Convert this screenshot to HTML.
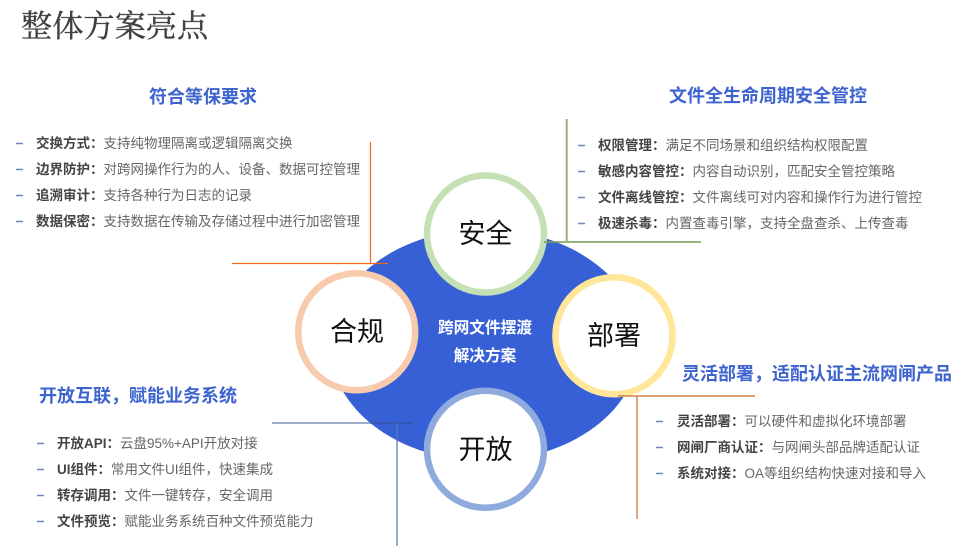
<!DOCTYPE html>
<html lang="zh"><head><meta charset="utf-8"><title>整体方案亮点</title>
<style>
html,body{margin:0;padding:0;background:#fff}
svg{display:block;filter:blur(.3px)}
text{font-family:"Liberation Sans","Noto Sans CJK SC",sans-serif}
.t{font-size:13.5px;fill:#666}
.t .b{font-weight:700;fill:#444}
.h{font-size:18px;font-weight:700;fill:#3d63cf}
.c{font-size:27px;fill:#111;text-anchor:middle}
.d{stroke:#6f86bd;stroke-width:1.5}
</style></head><body>
<svg width="959" height="554" viewBox="0 0 959 554" xmlns="http://www.w3.org/2000/svg">
<text x="21" y="37" style="font-family:'Liberation Serif','Noto Serif CJK SC',serif;font-size:31.2px;fill:#404040;stroke:#404040;stroke-width:.35">整体方案亮点</text>

<ellipse cx="485" cy="345" rx="155" ry="116" fill="#3760d6"/>

<g fill="#fff" stroke-width="6.5">
<circle cx="485.5" cy="234" r="58.5" stroke="#c5e0b4"/>
<circle cx="356.7" cy="331.7" r="58.5" stroke="#f8cbad"/>
<circle cx="614" cy="335.7" r="58.5" stroke="#ffe699"/>
<circle cx="485.5" cy="449.3" r="58.5" stroke="#8faadc"/>
</g>

<g fill="none">
<path d="M370.500 142V264M232 263.500H388" stroke="#f0681a" stroke-width="1.2"/>
<path d="M566.700 119V242M544 242H701" stroke="#7f9f5c" stroke-opacity=".8" stroke-width="2"/>
<path d="M272 423H412" stroke="#2f4f8f" stroke-opacity=".75" stroke-width="1.3"/>
<path d="M397 423V546" stroke="#5f78b4" stroke-opacity=".8" stroke-width="1.6"/>
<path d="M618 396H755M637 396V519" stroke="#cc7433" stroke-opacity=".9" stroke-width="1.4"/>
</g>

<text class="c" x="485.500" y="243">安全</text>
<text class="c" x="357" y="341">合规</text>
<text class="c" x="614" y="345">部署</text>
<text class="c" x="485.500" y="459">开放</text>

<g style="font-size:15.7px;font-weight:700" fill="#fff" text-anchor="middle">
<text x="485" y="333">跨网文件摆渡</text>
<text x="485" y="361">解决方案</text>
</g>

<text class="h" x="149" y="103">符合等保要求</text>
<text class="h" x="669" y="102">文件全生命周期安全管控</text>
<text class="h" x="682" y="380">灵活部署，适配认证主流网闸产品</text>
<text class="h" x="39" y="402">开放互联，赋能业务系统</text>

<g>
<path class="d" d="M16 143.500h7M16 169.500h7M16 195.500h7M16 221.500h7"/>
<path class="d" d="M578 145.500h7M578 171.500h7M578 197.500h7M578 223.500h7"/>
<path class="d" d="M37 443.500h7M37 469.500h7M37 495.500h7M37 521.500h7"/>
<path class="d" d="M656 421.500h7M656 447.500h7M656 473.500h7"/>
</g>

<text class="t" x="36" y="148"><tspan class="b">交换方式：</tspan>支持纯物理隔离或逻辑隔离交换</text>
<text class="t" x="36" y="174"><tspan class="b">边界防护：</tspan>对跨网操作行为的人、设备、数据可控管理</text>
<text class="t" x="36" y="200"><tspan class="b">追溯审计：</tspan>支持各种行为日志的记录</text>
<text class="t" x="36" y="226"><tspan class="b">数据保密：</tspan>支持数据在传输及存储过程中进行加密管理</text>

<text class="t" x="598" y="150"><tspan class="b">权限管理：</tspan>满足不同场景和组织结构权限配置</text>
<text class="t" x="598" y="176"><tspan class="b">敏感内容管控：</tspan>内容自动识别，匹配安全管控策略</text>
<text class="t" x="598" y="202"><tspan class="b">文件离线管控：</tspan>文件离线可对内容和操作行为进行管控</text>
<text class="t" x="598" y="228"><tspan class="b">极速杀毒：</tspan>内置查毒引擎，支持全盘查杀、上传查毒</text>

<text class="t" x="57" y="448"><tspan class="b">开放API：</tspan>云盘95%+API开放对接</text>
<text class="t" x="57" y="474"><tspan class="b">UI组件：</tspan>常用文件UI组件，快速集成</text>
<text class="t" x="57" y="500"><tspan class="b">转存调用：</tspan>文件一键转存，安全调用</text>
<text class="t" x="57" y="526"><tspan class="b">文件预览：</tspan>赋能业务系统百种文件预览能力</text>

<text class="t" x="677" y="426"><tspan class="b">灵活部署：</tspan>可以硬件和虚拟化环境部署</text>
<text class="t" x="677" y="452"><tspan class="b">网闸厂商认证：</tspan>与网闸头部品牌适配认证</text>
<text class="t" x="677" y="478"><tspan class="b">系统对接：</tspan>OA等组织结构快速对接和导入</text>
</svg>
</body></html>
